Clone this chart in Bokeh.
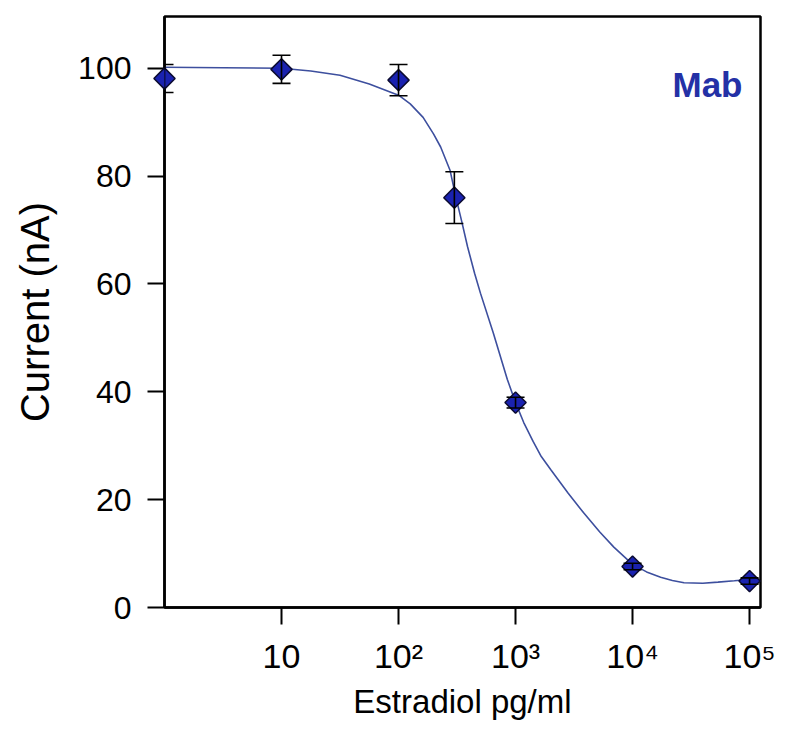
import numpy as np
from bokeh.plotting import figure
from bokeh.models import Range1d, FixedTicker, Whisker, TeeHead, ColumnDataSource, Label
from bokeh.embed import file_html
from bokeh.resources import INLINE

# ---- data ----
conc = [1, 10, 100, 300, 1000, 10000, 100000]          # Estradiol pg/ml
current = [98.1, 99.8, 97.8, 76.0, 38.0, 7.6, 4.9]     # Current (nA)
err = [2.6, 2.6, 2.9, 4.8, 1.0, 0.6, 0.6]

# fitted curve, read point by point (log10 of concentration, current)
curve_logx = [0.0, 0.5, 1.0, 1.25, 1.5, 1.75, 2.0, 2.1, 2.21, 2.3, 2.36, 2.44, 2.49,
              2.54, 2.59, 2.65, 2.70, 2.81, 2.93, 3.0, 3.07, 3.15, 3.22, 3.30, 3.45,
              3.58, 3.72, 3.84, 4.0, 4.12, 4.24, 4.34, 4.44, 4.6, 4.73, 4.87, 5.0]
curve_y = [100.2, 100.1, 100.0, 99.5, 98.7, 97.1, 95.0, 93.4, 90.9, 87.8, 85.4, 81.1, 76.1,
           71.6, 66.9, 62.0, 58.3, 50.9, 42.3, 38.0, 34.3, 30.8, 28.0, 25.6, 21.2,
           17.6, 14.0, 11.2, 8.0, 6.6, 5.6, 5.0, 4.6, 4.5, 4.7, 4.95, 5.2]

tick_values = [10, 100, 1000, 10000, 100000]
tick_labels = ["10", "10\u00b2", "10\u00b3", "10\u2074", "10\u2075"]
y_ticks = [0, 20, 40, 60, 80, 100]

p = figure(width=780, height=722, x_axis_type="log",
           x_range=Range1d(1, 1.24e5), y_range=Range1d(0, 109.6),
           output_backend="svg", toolbar_location=None,
           min_border_left=164, min_border_right=20,
           min_border_top=16, min_border_bottom=114)

p.background_fill_color = "white"
p.border_fill_color = "white"
p.outline_line_color = "black"
p.outline_line_width = 2.5
p.xgrid.visible = False
p.ygrid.visible = False

# curve
cx = [10 ** v for v in curve_logx]
p.line(cx, curve_y, line_color="#3d4f9e", line_width=1.6)

# error bars
src = ColumnDataSource(dict(
    x=conc, y=current,
    upper=[c + e for c, e in zip(current, err)],
    lower=[c - e for c, e in zip(current, err)],
))
wh = Whisker(base="x", upper="upper", lower="lower", source=src,
             line_color="black", line_width=1.6, level="overlay",
             upper_head=TeeHead(size=18, line_color="black", line_width=1.6),
             lower_head=TeeHead(size=18, line_color="black", line_width=1.6))
p.add_layout(wh)

# markers (diamonds)
p.scatter("x", "y", source=src, marker="square", angle=np.pi / 4, size=15,
          fill_color="#1a22b0", line_color="#0b0b30", line_width=1.5,
          level="overlay")

# axes
xa = p.xaxis[0]
xa.ticker = FixedTicker(ticks=tick_values, minor_ticks=[])
xa.major_label_overrides = {v: s for v, s in zip(tick_values, tick_labels)}
xa.axis_label = "Estradiol pg/ml"
xa.major_label_standoff = 12
xa.axis_label_standoff = 5

ya = p.yaxis[0]
ya.ticker = FixedTicker(ticks=y_ticks, minor_ticks=[])
ya.axis_label = "Current (nA)"
ya.major_label_standoff = 16
ya.axis_label_standoff = 18

for ax in (xa, ya):
    ax.axis_line_color = "black"
    ax.axis_line_width = 2.5
    ax.major_tick_line_color = "black"
    ax.major_tick_line_width = 2
    ax.major_tick_out = 17
    ax.major_tick_in = 0
    ax.minor_tick_out = 0
    ax.minor_tick_in = 0
    ax.major_label_text_font = "Liberation Sans"
    ax.major_label_text_color = "black"
    ax.axis_label_text_font = "Liberation Sans"
    ax.axis_label_text_font_style = "normal"
    ax.axis_label_text_color = "black"

xa.major_label_text_font_size = "34px"
ya.major_label_text_font_size = "32px"
xa.axis_label_text_font_size = "33px"
ya.axis_label_text_font_size = "40px"

p.add_layout(Label(x=8.7e4, y=97.0, text="Mab", text_align="right",
                   text_baseline="alphabetic", text_font="Liberation Sans",
                   text_font_style="bold", text_font_size="35px",
                   text_color="#2431a6"))

open("out.html", "w").write(file_html(p, INLINE))
